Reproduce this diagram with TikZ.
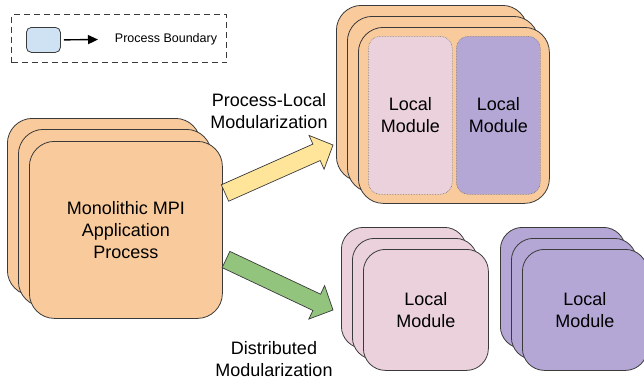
\documentclass[tikz,border=0pt]{standalone}
\usepackage{fontspec}
\setmainfont{Liberation Sans}
\usetikzlibrary{calc,arrows.meta}

\definecolor{procorange}{HTML}{F9CB9C}
\definecolor{modpink}{HTML}{EAD1DC}
\definecolor{modpurple}{HTML}{B4A7D6}
\definecolor{arrowyellow}{HTML}{FFE599}
\definecolor{arrowgreen}{HTML}{93C47D}
\definecolor{legendblue}{HTML}{CFE2F3}
\definecolor{edgegray}{HTML}{3A3A3A}

\tikzset{
  stackbox/.style={draw=edgegray, line width=0.8pt, inner sep=0pt, anchor=north west},
  bigbox/.style={stackbox, fill=procorange, rounded corners=25pt,
    minimum width=193pt, minimum height=177pt},
  smallbox/.style={stackbox, rounded corners=22pt,
    minimum width=125pt, minimum height=121pt},
  modbox/.style={draw=black!55, densely dotted, line width=0.6pt, inner sep=0pt,
    rounded corners=12pt, anchor=north west, minimum width=84pt, minimum height=158pt},
  bodytext/.style={font=\fontsize{18}{22}\selectfont, align=center, text=black},
  fatarrowline/.style={draw=edgegray, line width=0.7pt, line join=miter},
}

% thick block arrow from #2 to #3, filled with #1
\newcommand\blockarrow[3]{%
  \path ($(#3)!18pt!(#2)$) coordinate (ba-h);
  \draw[fatarrowline, fill=#1]
    ($(#2)!9pt!90:(#3)$) -- ($(ba-h)!9pt!90:(#3)$) -- ($(ba-h)!18.5pt!90:(#3)$)
    -- (#3)
    -- ($(ba-h)!18.5pt!-90:(#3)$) -- ($(ba-h)!9pt!-90:(#3)$) -- ($(#2)!9pt!-90:(#3)$)
    -- cycle;
}

\begin{document}
\begin{tikzpicture}[x=1pt, y=-1pt]
\useasboundingbox (0,0) rectangle (644,381);

% legend
\node[draw=edgegray, line width=1.2pt, dash pattern=on 6pt off 4pt, inner sep=0pt,
  anchor=north west, minimum width=215pt, minimum height=48pt] (legend) at (11,14) {};
\node[draw=edgegray, line width=0.8pt, fill=legendblue, rounded corners=5pt, inner sep=0pt,
  anchor=north west, minimum width=34pt, minimum height=25pt] (lbox) at (26,27) {};
\coordinate (lend) at (98,39.5);
\draw[line width=1.4pt, -{Triangle[length=10pt, width=9pt]}, shorten <=3pt]
  (lbox.east) -- (lend);
\node[font=\fontsize{12.5}{15}\selectfont] (ltext) at (166,39.5) {Process Boundary};

% monolithic application process
\node[bigbox] (mono3) at (7,118) {};
\node[bigbox] (mono2) at (18,129) {};
\node[bigbox, bodytext] (mono1) at (29,141) {Monolithic MPI\\Application\\Process};

% process-local modularization
\node[bigbox, minimum width=191pt, minimum height=176pt] (pl3) at (336,5) {};
\node[bigbox, minimum width=191pt, minimum height=176pt] (pl2) at (347,16) {};
\node[bigbox, minimum width=191pt, minimum height=176pt] (pl1) at (358,27) {};
\node[modbox, fill=modpink, bodytext] (plm1) at (368,36) {Local\\Module};
\node[modbox, fill=modpurple, bodytext] (plm2) at (456,36) {Local\\Module};

% distributed modularization
\node[smallbox, fill=modpink] (dp3) at (341,227) {};
\node[smallbox, fill=modpink] (dp2) at (352,238) {};
\node[smallbox, fill=modpink, bodytext] (dp1) at (363,249) {Local\\Module};
\node[smallbox, fill=modpurple] (dq3) at (500,227) {};
\node[smallbox, fill=modpurple] (dq2) at (511,238) {};
\node[smallbox, fill=modpurple, bodytext] (dq1) at (522,249) {Local\\Module};

% block arrows
\coordinate (ytail) at (225,193);
\coordinate (ytip) at (333,145);
\blockarrow{arrowyellow}{ytail}{ytip}
\coordinate (gtail) at (226,259.5);
\coordinate (gtip) at (333,310);
\blockarrow{arrowgreen}{gtail}{gtip}

% labels
\node[bodytext] (pllabel) at (269,111) {Process-Local\\Modularization};
\node[bodytext] (dlabel) at (274,359) {Distributed\\Modularization};
\end{tikzpicture}
\end{document}
